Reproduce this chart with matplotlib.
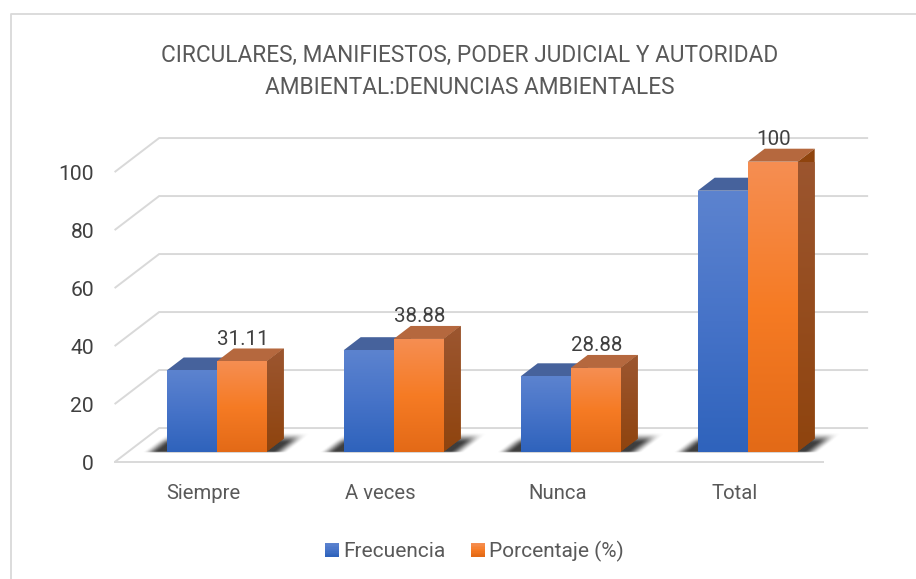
import numpy as np
import matplotlib
matplotlib.use("Agg")
import matplotlib.pyplot as plt
from matplotlib.patches import Polygon, Rectangle
from matplotlib.lines import Line2D
from matplotlib.colors import LinearSegmentedColormap
from matplotlib.legend_handler import HandlerBase

# ---- data ----
categories = ["Siempre", "A veces", "Nunca", "Total"]
frecuencia = [28, 35, 26, 90]
porcentaje = [31.11, 38.88, 28.88, 100]
porcentaje_labels = ["31.11", "38.88", "28.88", "100"]
y_ticks = [0, 20, 40, 60, 80, 100]
series_names = ["Frecuencia", "Porcentaje (%)"]
title_lines = ["CIRCULARES, MANIFIESTOS, PODER JUDICIAL Y AUTORIDAD", "AMBIENTAL:DENUNCIAS AMBIENTALES"]

# ---- style ----
W, H = 916, 579
FONT = "Roboto"
plt.rcParams["font.family"] = FONT
TXT = "#595959"
GRID = "#D9D9D9"
blue_grad = ["#5C83CF", "#4673C8", "#2F63BC"]
orange_grad = ["#F58E52", "#F67B24", "#E36A17"]
blue_top, blue_side = "#46629C", "#2A4A80"
orange_top, orange_side_t, orange_side_b = "#B5683E", "#9C5630", "#8F440E"

fig = plt.figure(figsize=(W / 100, H / 100), dpi=100)

def axes_px(x0, y_bottom, x1, y_top):
    return fig.add_axes([x0 / W, 1 - y_bottom / H, (x1 - x0) / W, (y_bottom - y_top) / H])

# chart frame
fig.add_artist(Line2D([11 / W, 11 / W, 1.0], [1 - 579 / H, 1 - 14 / H, 1 - 14 / H],
                      color=GRID, lw=1.3, transform=fig.transFigure))

# plane of the bars (value 0 at y=451.7, 2.9 px per unit)
PX, PY = 177.0, 2.9
ax = axes_px(128.2, 451.7, 836.2, 451.7 - 290)
ax.set_xlim(-0.5, 3.5)
ax.set_ylim(0, 100)
ax.axis("off")

DX = 17 / PX        # bar depth in x units
DY = 13 / PY        # bar depth in y units
def P(x, y, d=0.0):
    return (x + d * DX, y + d * DY)

BACK = 1.82
FRONT = -0.754
# grid lines: side wall + back wall
for t in y_ticks:
    xs, ys = zip(P(-0.5, t, FRONT), P(-0.5, t, BACK), P(3.5, t, BACK))
    ax.plot(xs, ys, color=GRID, lw=1.4, clip_on=False, zorder=1, solid_joinstyle="miter")
xs, ys = zip(P(-0.5, 0, FRONT), P(3.5, 0, FRONT))
ax.plot(xs, ys, color=GRID, lw=1.4, clip_on=False, zorder=1)

def gradient(x0, x1, y0, y1, colors, z):
    cmap = LinearSegmentedColormap.from_list("g", colors)
    ax.imshow(np.linspace(0, 1, 128).reshape(-1, 1), cmap=cmap, aspect="auto",
              extent=(x0, x1, y0, y1), origin="upper", zorder=z, clip_on=False,
              interpolation="bilinear")

def smooth(t):
    t = np.clip(t, 0, 1)
    return t * t * (3 - 2 * t)

def shadow(x0, x1, z):
    # soft cast shadow on the floor, skewed along the depth direction
    left, right, up, below = 38 / PX, 62 / PX, 22 / PY, 1.5 / PY
    xg = np.linspace(x0 - left, x1 + right, 300)
    yg = np.linspace(-below, up, 60)
    X, Y = np.meshgrid(xg, yg)
    skew = (Y * PY * 1.3) / PX              # x shift caused by depth
    Xs = X - skew
    a = smooth((Xs - (x0 - 24 / PX)) / (16 / PX))
    a = a * smooth(((x1 + 22 / PX) - Xs) / (16 / PX))
    a = a * smooth((19 / PY - Y) / (11 / PY))
    a = a * smooth((Y + below) / (1.5 / PY))
    rgba = np.zeros(X.shape + (4,))
    rgba[..., :3] = 0.2
    rgba[..., 3] = 0.95 * a
    ax.imshow(rgba, aspect="auto", extent=(xg[0], xg[-1], yg[0], yg[-1]), origin="lower",
              zorder=z, clip_on=False, interpolation="bilinear")

def bar3d(x0, x1, v, colors, top, side_t, side_b, z):
    ax.add_patch(Polygon([P(x0, v), P(x1, v), P(x1, v, 1), P(x0, v, 1)], closed=True,
                         fc=top, ec="none", clip_on=False, zorder=z))
    side = Polygon([P(x1, 0), P(x1, v), P(x1, v, 1), P(x1, 0, 1)], closed=True,
                   fc=side_b, ec="none", clip_on=False, zorder=z)
    ax.add_patch(side)
    cmap = LinearSegmentedColormap.from_list("s", [side_t, side_b])
    im = ax.imshow(np.linspace(0, 1, 64).reshape(-1, 1), cmap=cmap, aspect="auto",
                   extent=(x1, x1 + DX, 0, v + DY), origin="upper", zorder=z + 0.01,
                   interpolation="bilinear")
    im.set_clip_path(side)
    gradient(x0, x1, 0, v, colors, z + 0.02)

w = 50 / PX
for i in range(len(categories)):
    shadow(i - w, i + w, 2 + i * 0.001)
for i, (f, p) in enumerate(zip(frecuencia, porcentaje)):
    bar3d(i - w, i, f, blue_grad, blue_top, blue_side, blue_side, 3 + i)
    bar3d(i, i + w, p, orange_grad, orange_top, orange_side_t, orange_side_b, 3.5 + i)
    ax.annotate(porcentaje_labels[i], (i + w / 2, p), xytext=(0.5, 22.3 * 0.72), textcoords="offset points",
                ha="center", va="center", fontsize=14.8, color="#404040", zorder=10,
                annotation_clip=False)

ax.set_xlim(-0.5, 3.5)
ax.set_ylim(0, 100)

# front plane carrying the real axes labels
axf = axes_px(115, 463, 823, 463 - 290)
axf.patch.set_visible(False)
for s in axf.spines.values():
    s.set_visible(False)
axf.set_xlim(-0.5, 3.5)
axf.set_ylim(0, 100)
axf.set_xticks(range(len(categories)), categories)
axf.set_yticks(y_ticks)
axf.tick_params(axis="both", length=0, colors=TXT)
axf.tick_params(axis="y", pad=15, labelcolor="#404040", labelsize=15.2)
axf.tick_params(axis="x", pad=15.4, labelsize=14.6)
for lab in axf.get_yticklabels():
    lab.set_verticalalignment("center_baseline")

for line, yy in zip(title_lines, [55, 87]):
    fig.text(470 / W, 1 - yy / H, line, ha="center", va="center", fontsize=16.25, color=TXT)

class GradHandler(HandlerBase):
    def __init__(self, colors):
        super().__init__()
        self.colors = colors
    def create_artists(self, legend, orig, xd, yd, width, height, fontsize, trans):
        cmap = LinearSegmentedColormap.from_list("l", self.colors)
        n = 10
        s = 10.0
        out = []
        for k in range(n):
            out.append(Rectangle((-xd + width - s, -yd + (height - s) / 2 + s * (n - 1 - k) / n),
                                 s, s / n + 0.1, fc=cmap(k / (n - 1)), ec="none", transform=trans))
        return out

h1 = Rectangle((0, 0), 1, 1)
h2 = Rectangle((0, 0), 1, 1)
fig.legend([h1, h2], series_names, ncols=2, loc="center", bbox_to_anchor=(474 / W, 1 - 551.5 / H),
           frameon=False, fontsize=15, labelcolor=TXT, handlelength=0.7, handletextpad=0.2,
           columnspacing=1.22, borderpad=0,
           handler_map={h1: GradHandler(blue_grad), h2: GradHandler(orange_grad)})

fig.savefig("out.png", dpi=100)
